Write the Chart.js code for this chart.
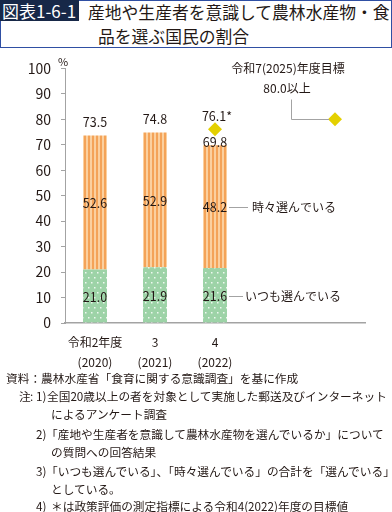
<!DOCTYPE html>
<html lang="ja">
<head>
<meta charset="utf-8">
<script src="https://cdn.jsdelivr.net/npm/chart.js@4.4.1/dist/chart.umd.min.js"></script>
<style>
  html, body { margin:0; padding:0; background:#fff; }
  body { width:392px; height:512px; position:relative; overflow:hidden;
         font-family:"Noto Sans CJK JP","Noto Sans",sans-serif; color:#231815; }
  #titlebox { position:absolute; left:0; top:0; width:392px; height:48px; box-sizing:border-box;
              border:1.5px solid #2f4fa3; }
  #tag { position:absolute; left:0; top:0; width:79px; height:21px; background:#172848; color:#fff;
         font-size:17px; line-height:21px; padding-left:2px; box-sizing:border-box; white-space:nowrap; }
  .tl { position:absolute; font-size:16.8px; line-height:20px; white-space:nowrap; }
  #chartwrap { position:absolute; left:0; top:50px; width:392px; height:330px; }
  .fn { position:absolute; font-size:11.7px; line-height:14px; white-space:nowrap; }
</style>
</head>
<body>
<div id="titlebox"></div>
<div id="tag">図表1-6-1</div>
<div class="tl" style="left:88px; top:2px;">産地や生産者を意識して農林水産物・食</div>
<div class="tl" style="left:98px; top:26px;">品を選ぶ国民の割合</div>

<div id="chartwrap"><canvas id="c" width="392" height="330"></canvas></div>

<div class="fn" style="left:6px; top:371px;">資料：農林水産省「食育に関する意識調査」を基に作成</div>
<div class="fn" style="left:19px; top:389px;">注</div>
<div class="fn" style="left:30px; top:389px;">:</div>
<div class="fn" style="left:36px; top:389px;">1)</div>
<div class="fn" style="left:47px; top:389px;">全国20歳以上の者を対象として実施した郵送及びインターネット</div>
<div class="fn" style="left:51px; top:407px;">によるアンケート調査</div>
<div class="fn" style="left:36px; top:427px;">2)</div>
<div class="fn" style="left:46px; top:427px;">「産地や生産者を意識して農林水産物を選んでいるか」について</div>
<div class="fn" style="left:51px; top:445px;">の質問への回答結果</div>
<div class="fn" style="left:36px; top:464px;">3)</div>
<div class="fn" style="left:46px; top:464px;">「いつも選んでいる」、「時々選んでいる」の合計を「選んでいる」</div>
<div class="fn" style="left:51px; top:482px;">としている。</div>
<div class="fn" style="left:36px; top:499px;">4)</div>
<div class="fn" style="left:51px; top:499px;">＊は政策評価の測定指標による令和4(2022)年度の目標値</div>

<script>
// ---- data ----
const categories = [["令和2年度","(2020)"], ["3","(2021)"], ["4","(2022)"], "", ""];
const alwaysValues = [21.0, 21.9, 21.6, null, null];
const sometimesValues = [52.6, 52.9, 48.2, null, null];
const totalValues = [73.5, 74.8, 69.8];
const targetValues = [null, null, 76.1, null, 80.0];
const targetLabels = [null, null, "76.1*", null, null];
const seriesNames = ["いつも選んでいる", "時々選んでいる"];
const goalTitle = "令和7(2025)年度目標";
const goalValueText = "80.0以上";
const yTicks = [0,10,20,30,40,50,60,70,80,90,100];

const FONT = '"Noto Sans CJK JP","Noto Sans",sans-serif';
const TXT = '#231815';
const GRAY = '#a3a3a3';

function stripePattern() {
  const c = document.createElement('canvas'); c.width = 4; c.height = 4;
  const g = c.getContext('2d');
  g.fillStyle = '#fbd09f'; g.fillRect(0,0,4,4);
  g.fillStyle = '#f4a358'; g.fillRect(0,0,2,4);
  return g.createPattern(c, 'repeat');
}
function dotPattern() {
  const c = document.createElement('canvas'); c.width = 6; c.height = 10;
  const g = c.getContext('2d');
  g.fillStyle = '#9dd3a7'; g.fillRect(0,0,6,10);
  g.fillStyle = '#eef8ef';
  g.fillRect(1,2,1.5,1.5); g.fillRect(4,7,1.5,1.5);
  return g.createPattern(c, 'repeat');
}

const labelsPlugin = {
  id: 'labelsPlugin',
  afterDatasetsDraw(chart) {
    const ctx = chart.ctx;
    const m0 = chart.getDatasetMeta(0), m1 = chart.getDatasetMeta(1), m2 = chart.getDatasetMeta(2);
    ctx.save();
    ctx.fillStyle = TXT;
    ctx.textAlign = 'center'; ctx.textBaseline = 'middle';
    ctx.font = '12.5px ' + FONT;
    [[m0, alwaysValues], [m1, sometimesValues]].forEach(([m, vals]) => {
      m.data.forEach((el, i) => {
        if (vals[i] == null) return;
        ctx.fillText(vals[i].toFixed(1), el.x, (el.y + el.base) / 2 + 1);
      });
    });
    totalValues.forEach((v, i) => {
      const el = m1.data[i];
      const off = (targetValues[i] != null) ? 3 : 13;
      ctx.fillText(v.toFixed(1), el.x, el.y - off);
    });
    targetLabels.forEach((t, i) => {
      if (!t) return;
      const el = m2.data[i];
      ctx.fillText(t, el.x + 2, el.y - 13);
    });
    const last = 2;
    ctx.strokeStyle = GRAY; ctx.lineWidth = 1;
    ctx.textAlign = 'left';
    ctx.font = '12px ' + FONT;
    const b1 = m1.data[last], b0 = m0.data[last];
    const right1 = b1.x + b1.width / 2;
    let y1 = Math.round((b1.y + b1.base) / 2) + 0.5;
    ctx.beginPath(); ctx.moveTo(right1 + 2, y1); ctx.lineTo(right1 + 21, y1); ctx.stroke();
    ctx.fillText(seriesNames[1], right1 + 25, y1);
    let y0 = Math.round((b0.y + b0.base) / 2) + 1.5;
    ctx.beginPath(); ctx.moveTo(right1 + 2, y0); ctx.lineTo(right1 + 16, y0); ctx.stroke();
    ctx.fillText(seriesNames[0], right1 + 18, y0);
    const g = m2.data[4];
    const lx = Math.round(g.x - 44) + 0.5, gy = Math.round(g.y) + 0.5;
    ctx.beginPath(); ctx.moveTo(lx, gy - 20); ctx.lineTo(lx, gy); ctx.lineTo(g.x - 6, gy); ctx.stroke();
    ctx.textAlign = 'center';
    ctx.fillText(goalTitle, g.x - 47, g.y - 51);
    ctx.fillText(goalValueText, g.x - 48, g.y - 31);
    ctx.font = '11px ' + FONT;
    ctx.fillText('%', chart.chartArea.left - 2, chart.chartArea.top - 7);
    ctx.restore();
  }
};

new Chart(document.getElementById('c'), {
  type: 'bar',
  data: {
    labels: categories,
    datasets: [
      { label: seriesNames[0], data: alwaysValues, backgroundColor: dotPattern(), stack: 's',
        categoryPercentage: 0.8, barPercentage: 0.5, order: 2 },
      { label: seriesNames[1], data: sometimesValues, backgroundColor: stripePattern(), stack: 's',
        categoryPercentage: 0.8, barPercentage: 0.5, order: 2 },
      { type: 'line', label: 'target', data: targetValues, stack: 't', showLine: false,
        pointStyle: 'rectRot', pointRadius: 7, pointHoverRadius: 7,
        pointBackgroundColor: '#e4d000', pointBorderColor: '#e4d000', pointBorderWidth: 0, order: 1 }
    ]
  },
  options: {
    responsive: false,
    animation: false,
    events: [],
    layout: { padding: { left: 0, right: 27, top: 18, bottom: 0 } },
    plugins: { legend: { display: false }, tooltip: { enabled: false }, title: { display: false } },
    scales: {
      x: {
        stacked: true,
        grid: { display: false },
        border: { display: true, color: GRAY, width: 1.5 },
        ticks: { color: TXT, font: { family: FONT, size: 12, lineHeight: 1.65 }, padding: 2, maxRotation: 0, autoSkip: false },
        afterFit(s) { s.height = 57; }
      },
      y: {
        stacked: true,
        min: 0, max: 100,
        afterBuildTicks(s) { s.ticks = yTicks.map(v => ({ value: v })); },
        grid: { drawOnChartArea: false, drawTicks: true, tickLength: 4, color: GRAY },
        border: { display: true, color: GRAY, width: 1 },
        ticks: { color: TXT, font: { family: FONT, size: 14 }, padding: 10 },
        afterFit(s) { s.width = 65; }
      }
    }
  },
  plugins: [labelsPlugin]
});
</script>
</body>
</html>
